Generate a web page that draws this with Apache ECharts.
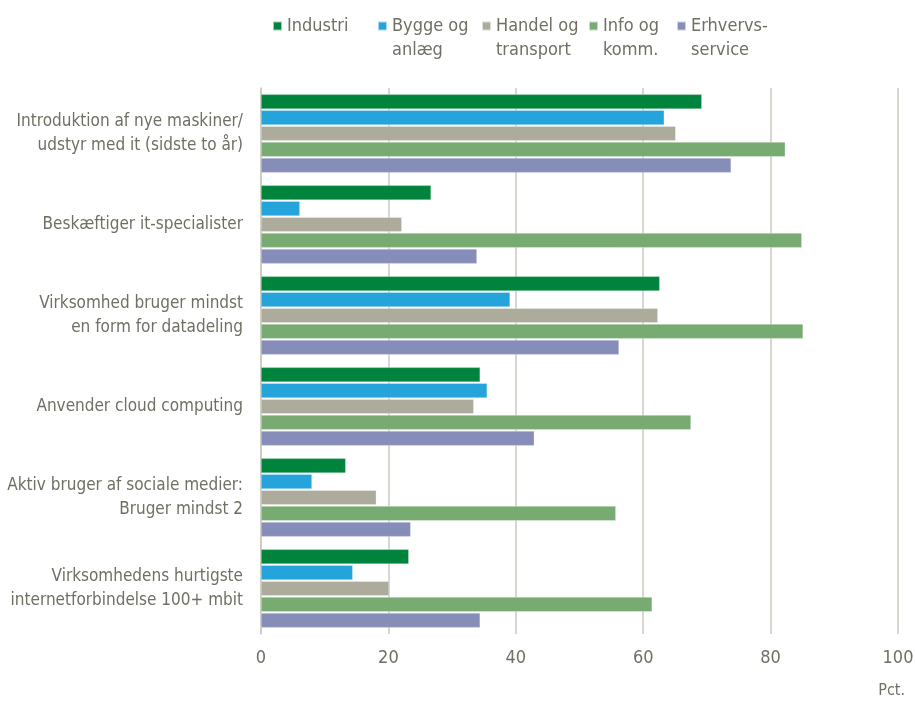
<!DOCTYPE html>
<html>
<head>
<meta charset="utf-8">
<script src="https://cdn.jsdelivr.net/npm/echarts@6/dist/echarts.min.js"></script>
<style>
  html, body { margin: 0; padding: 0; background: #fff; }
  #chart-panel { width: 915px; height: 702px; }
</style>
</head>
<body>
<div id="chart-panel"></div>
<script>
// categories (top to bottom)
const categories = [
  "Introduktion af nye maskiner/\nudstyr med it (sidste to år)",
  "Beskæftiger it-specialister",
  "Virksomhed bruger mindst\nen form for datadeling",
  "Anvender cloud computing",
  "Aktiv bruger af sociale medier:\nBruger mindst 2",
  "Virksomhedens hurtigste\ninternetforbindelse 100+ mbit"
]
const seriesNames = ["Industri", "Bygge og\nanlæg", "Handel og\ntransport", "Info og\nkomm.", "Erhvervs-\nservice"]
const industri = [69.2, 26.7, 62.6, 34.4, 13.3, 23.2]
const bygge = [63.3, 6.1, 39.1, 35.5, 8.0, 14.4]
const handel = [65.1, 22.1, 62.3, 33.4, 18.1, 20.1]
const info = [82.3, 84.9, 85.1, 67.5, 55.7, 61.4]
const erhverv = [73.8, 33.9, 56.2, 42.9, 23.5, 34.4]
const xTicks = [0, 20, 40, 60, 80, 100]

const color = ["#00843d", "#25a4dc", "#adab9c", "#78ab71", "#858db8"]
const values = [industri, bygge, handel, info, erhverv]
const textColor = "#6f6f63"
const font = "'DejaVu Sans Condensed', 'Liberation Sans', Arial, sans-serif"
const legendLeft = [272, 377, 481, 588, 676]

const chart = echarts.init(document.getElementById("chart-panel"))

// one legend per item so each sits in its own column; first text line level with the icon
const legends = seriesNames.map((name, i) => {
  const twoLines = name.indexOf("\n") >= 0
  return {
    data: [name],
    left: legendLeft[i],
    top: twoLines ? -10 : 14,
    padding: 0,
    icon: "rect",
    itemWidth: 9,
    itemHeight: 9,
    itemGap: 0,
    selectedMode: false,
    formatter: (n) => (twoLines ? "\n" + n : n),
    textStyle: {
      color: textColor,
      fontFamily: font,
      fontSize: 18,
      lineHeight: 24
    }
  }
})

const options = {
  animation: false,
  color: color,
  textStyle: { fontFamily: font },
  legend: legends,
  grid: {
    left: 261,
    right: 17,
    top: 88,
    height: 546,
    containLabel: false,
    outerBoundsMode: "none"
  },
  xAxis: {
    type: "value",
    min: 0,
    max: 100,
    interval: 20,
    axisLine: { show: false },
    axisTick: { show: false },
    splitLine: { lineStyle: { color: "#cacac0", width: 1.5 } },
    axisLabel: {
      color: textColor,
      fontFamily: font,
      fontSize: 18,
      margin: 15,
      formatter: (v) => (xTicks.indexOf(v) >= 0 ? String(v) : "")
    }
  },
  yAxis: {
    type: "category",
    inverse: true,
    data: categories,
    axisTick: { show: false },
    axisLine: { show: true, lineStyle: { color: "#cacac0", width: 1.5 } },
    axisLabel: {
      color: textColor,
      fontFamily: font,
      fontSize: 17,
      lineHeight: 24,
      margin: 18,
      align: "right"
    }
  },
  graphic: [
    {
      type: "text",
      right: 10,
      top: 683,
      style: { text: "Pct.", fill: textColor, font: "16px " + font }
    }
  ],
  series: seriesNames.map((name, i) => ({
    name: name,
    type: "bar",
    data: values[i],
    barCategoryGap: "14%",
    barGap: "8%",
    itemStyle: { borderColor: "rgba(255,255,255,0.6)", borderWidth: 0.5 }
  }))
}
chart.setOption(options)
</script>
</body>
</html>
